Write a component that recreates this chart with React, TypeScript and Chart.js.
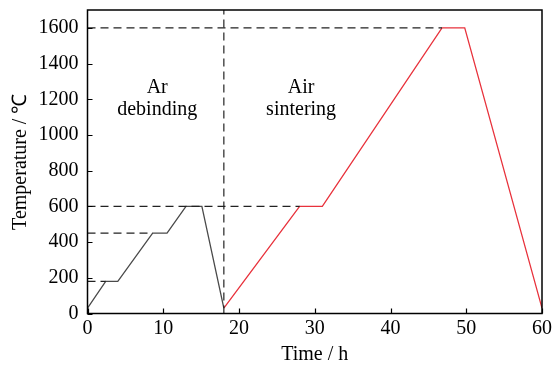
import React, { useEffect, useRef } from "react";
import { Chart, registerables } from "chart.js";

Chart.register(...registerables);

// Ar debinding profile (time h, temperature °C)
const debindTime = [0, 2.4, 4, 8.6, 10.5, 13, 15.1, 18];
const debindTemp = [30, 180, 180, 450, 450, 600, 600, 30];

// Air sintering profile
const sinterTime = [18, 28, 31, 46.8, 49.8, 60];
const sinterTemp = [30, 600, 600, 1600, 1600, 30];

// Guide (dashed) lines
const guide1600X = [0, 46.8];
const guide1600Y = [1600, 1600];
const guide600X = [0, 28];
const guide600Y = [600, 600];
const guide450X = [0, 8.6];
const guide450Y = [450, 450];
const guide180X = [0, 2.4];
const guide180Y = [180, 180];
const guideVX = [18, 18];
const guideVY = [0, 1700];

// Annotation text
const annoLines = [["Ar", "debinding"], ["Air", "sintering"]];
const annoX = [9.2, 28.2];
const annoY = [1265, 1265];

const xTicks = [0, 10, 20, 30, 40, 50, 60];
const yTicks = [0, 200, 400, 600, 800, 1000, 1200, 1400, 1600];

const FONT = "'Liberation Serif', 'Times New Roman', serif";
const FS = 20;

const pts = (xs: number[], ys: number[]) => xs.map((x, i) => ({ x, y: ys[i] }));

const frameAndAnno = {
  id: "frameAndAnno",
  afterDatasetsDraw(chart: any) {
    const { ctx, chartArea: a, scales } = chart;
    const xs = scales.x;
    const ys = scales.y;
    ctx.save();
    ctx.strokeStyle = "#000";
    ctx.lineWidth = 1.2;
    ctx.beginPath();
    xTicks.forEach((t) => {
      const px = Math.round(xs.getPixelForValue(t)) + 0.5;
      ctx.moveTo(px, a.bottom);
      ctx.lineTo(px, a.bottom - 5);
    });
    yTicks.forEach((t) => {
      const py = Math.round(ys.getPixelForValue(t)) + 0.5;
      ctx.moveTo(a.left, py);
      ctx.lineTo(a.left + 5, py);
    });
    ctx.stroke();
    ctx.lineWidth = 1.5;
    ctx.strokeRect(a.left, a.top, a.right - a.left, a.bottom - a.top);
    ctx.fillStyle = "#000";
    ctx.font = `${FS}px ${FONT}`;
    ctx.textAlign = "center";
    ctx.textBaseline = "middle";
    annoLines.forEach((lines, i) => {
      const cx = xs.getPixelForValue(annoX[i]);
      const cy = ys.getPixelForValue(annoY[i]);
      lines.forEach((ln, j) => ctx.fillText(ln, cx, cy + j * 22));
    });
    ctx.restore();
  },
};

export default function App() {
  const ref = useRef<HTMLCanvasElement>(null);
  useEffect(() => {
    document.body.style.margin = "0";
    const dashed = (xs: number[], ys: number[]) => ({
      data: pts(xs, ys),
      borderColor: "#222",
      borderWidth: 1.2,
      borderDash: [8, 5],
      pointRadius: 0,
      showLine: true,
      fill: false,
    });
    const chart = new Chart(ref.current!, {
      type: "scatter",
      data: {
        datasets: [
          dashed(guide1600X, guide1600Y),
          dashed(guide600X, guide600Y),
          dashed(guide450X, guide450Y),
          dashed(guide180X, guide180Y),
          dashed(guideVX, guideVY),
          {
            data: pts(debindTime, debindTemp),
            borderColor: "#4a4a4a",
            borderWidth: 1.3,
            pointRadius: 0,
            showLine: true,
            fill: false,
          },
          {
            data: pts(sinterTime, sinterTemp),
            borderColor: "#e8323c",
            borderWidth: 1.3,
            pointRadius: 0,
            showLine: true,
            fill: false,
          },
        ],
      },
      options: {
        animation: false,
        responsive: false,
        devicePixelRatio: 1,
        layout: { padding: { left: 0, right: 13, top: 10, bottom: 0 } },
        plugins: { legend: { display: false }, tooltip: { enabled: false } },
        scales: {
          x: {
            type: "linear",
            min: 0,
            max: 60,
            grid: { display: false, drawTicks: false },
            border: { display: false },
            ticks: {
              stepSize: 10,
              color: "#000",
              padding: 3,
              font: { family: FONT, size: FS },
              maxRotation: 0,
              callback: (v: any) => String(v),
            },
            title: {
              display: true,
              text: "Time / h",
              color: "#000",
              font: { family: FONT, size: FS },
              padding: { top: 0, bottom: 0 },
            },
            afterFit: (s: any) => {
              s.height = 53.5;
            },
          },
          y: {
            type: "linear",
            min: 0,
            max: 1700,
            grid: { display: false, drawTicks: false },
            border: { display: false },
            ticks: {
              stepSize: 200,
              includeBounds: false,
              color: "#000",
              padding: 9,
              font: { family: FONT, size: FS },
              callback: (v: any) => String(v),
            },
            title: {
              display: true,
              text: "Temperature / ℃",
              color: "#000",
              font: { family: FONT, size: FS },
              padding: { top: 9, bottom: 0 },
            },
            afterFit: (s: any) => {
              s.width = 87.5;
              s.paddingTop = 0;
              s.paddingBottom = 0;
            },
          },
        },
      },
      plugins: [frameAndAnno],
    });
    return () => chart.destroy();
  }, []);
  return (
    <div style={{ width: 555, height: 367, background: "#fff" }}>
      <canvas ref={ref} width={555} height={367} style={{ display: "block" }} />
    </div>
  );
}
